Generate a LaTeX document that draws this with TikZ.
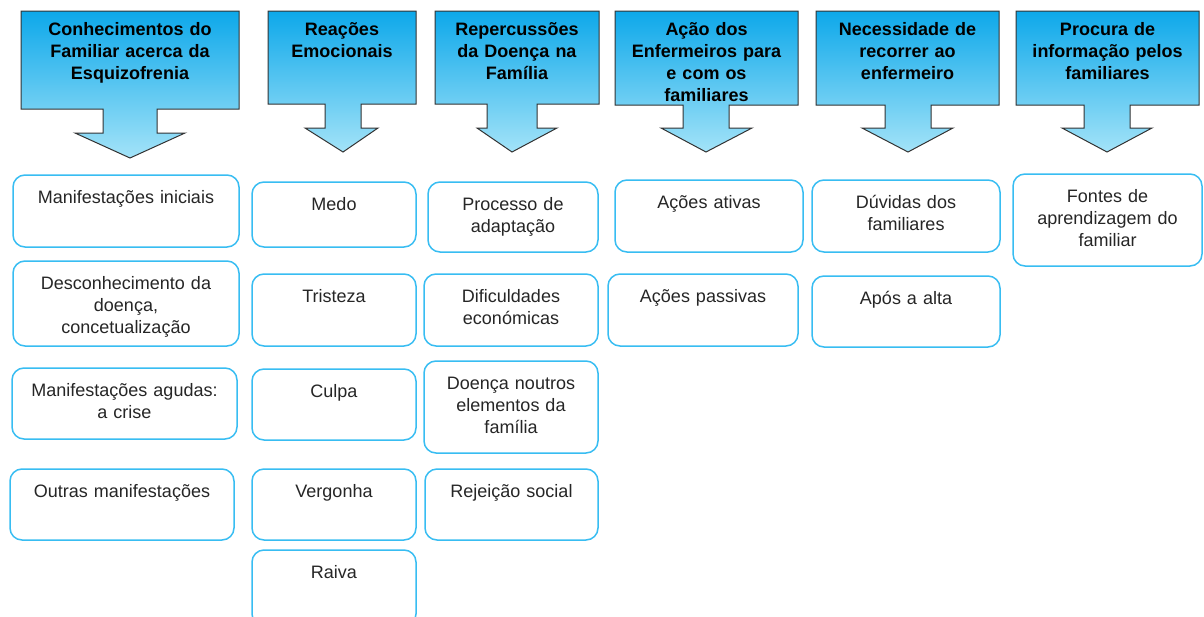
\documentclass[tikz,border=0pt]{standalone}
\usepackage{fontspec}
\setmainfont{Liberation Sans}
\definecolor{hdrtop}{HTML}{0DA8EA}
\definecolor{hdrbot}{HTML}{A3E3F8}
\definecolor{boxblue}{HTML}{38BDF2}
\newcommand\hdrshape[9]{%
  \path[hdr] (#1,11) -- (#2,11) -- (#2,#3) -- (#5,#3) -- (#5,#6) -- (#8,#6)
    -- ({(#4+#5)/2},#9) -- (#7,#6) -- (#4,#6) -- (#4,#3) -- (#1,#3) -- cycle;}
\newcommand\catbox[6]{%
  \node[cat, minimum width={#4-#2}, minimum height={#5-#3}] (#1) at ({(#2+#4)/2},{(#3+#5)/2}) {};
  \node[cattext] (#1t) at ({(#2+#4)/2},{#3+28}) {#6};}
\begin{document}
\begin{tikzpicture}[x=1pt,y=-1pt,
  hdr/.style={draw=black!80, line width=1pt, top color=hdrtop, bottom color=hdrbot},
  hdrtext/.style={anchor=base, align=center, inner sep=0pt, text width=215pt,
    font=\fontsize{18}{22}\selectfont\bfseries},
  cat/.style={draw=boxblue, line width=1.5pt, rounded corners=12pt, fill=white, inner sep=0pt},
  cattext/.style={anchor=base, align=center, inner sep=0pt, text width=220pt, text=black!85,
    font=\fontsize{18}{22}\selectfont},
]
\useasboundingbox (0,0) rectangle (1204,616);
% headers
\hdrshape{21}{239}{109}{103}{157}{133}{75}{185}{158}
\hdrshape{268}{416}{104}{325}{361}{128}{305}{378}{152}
\hdrshape{435}{599}{104}{487}{537}{128}{477}{557}{152}
\hdrshape{615}{798}{105}{683}{729}{128}{661}{752}{152}
\hdrshape{816}{999}{105}{885}{931}{128}{862}{953}{152}
\hdrshape{1016}{1199}{105}{1084}{1130}{128}{1062}{1152}{152}
\node[hdrtext] (h1) at (130,35) {Conhecimentos do\\Familiar acerca da\\Esquizofrenia};
\node[hdrtext] (h2) at (342,35) {Reações\\Emocionais};
\node[hdrtext] (h3) at (517,35) {Repercussões\\da Doença na\\Família};
\node[hdrtext] (h4) at (706.5,35) {Ação dos\\Enfermeiros para\\e com os\\familiares};
\node[hdrtext] (h5) at (907.5,35) {Necessidade de\\recorrer ao\\enfermeiro};
\node[hdrtext] (h6) at (1107.5,35) {Procura de\\informação pelos\\familiares};
% column 1
\catbox{m1}{13}{175}{239}{247}{Manifestações iniciais}
\catbox{m2}{13}{261}{239}{346}{Desconhecimento da\\doença,\\concetualização}
\catbox{m3}{12}{368}{237}{439}{Manifestações agudas:\\a crise}
\catbox{m4}{10}{469}{234}{540}{Outras manifestações}
% column 2
\catbox{r1}{252}{182}{416}{247}{Medo}
\catbox{r2}{252}{274}{416}{346}{Tristeza}
\catbox{r3}{252}{369}{416}{440}{Culpa}
\catbox{r4}{252}{469}{416}{540}{Vergonha}
\catbox{r5}{252}{550}{416}{626}{Raiva}
% column 3
\catbox{p1}{428}{182}{598}{252}{Processo de\\adaptação}
\catbox{p2}{424}{274}{598}{346}{Dificuldades\\económicas}
\catbox{p3}{424}{361}{598}{453}{Doença noutros\\elementos da\\família}
\catbox{p4}{425}{469}{598}{540}{Rejeição social}
% column 4
\catbox{a1}{615}{180}{803}{252}{Ações ativas}
\catbox{a2}{608}{274}{798}{346}{Ações passivas}
% column 5
\catbox{n1}{812}{180}{1000}{252}{Dúvidas dos\\familiares}
\catbox{n2}{812}{276}{1000}{347}{Após a alta}
% column 6
\catbox{f1}{1013}{174}{1202}{266}{Fontes de\\aprendizagem do\\familiar}
\end{tikzpicture}
\end{document}
